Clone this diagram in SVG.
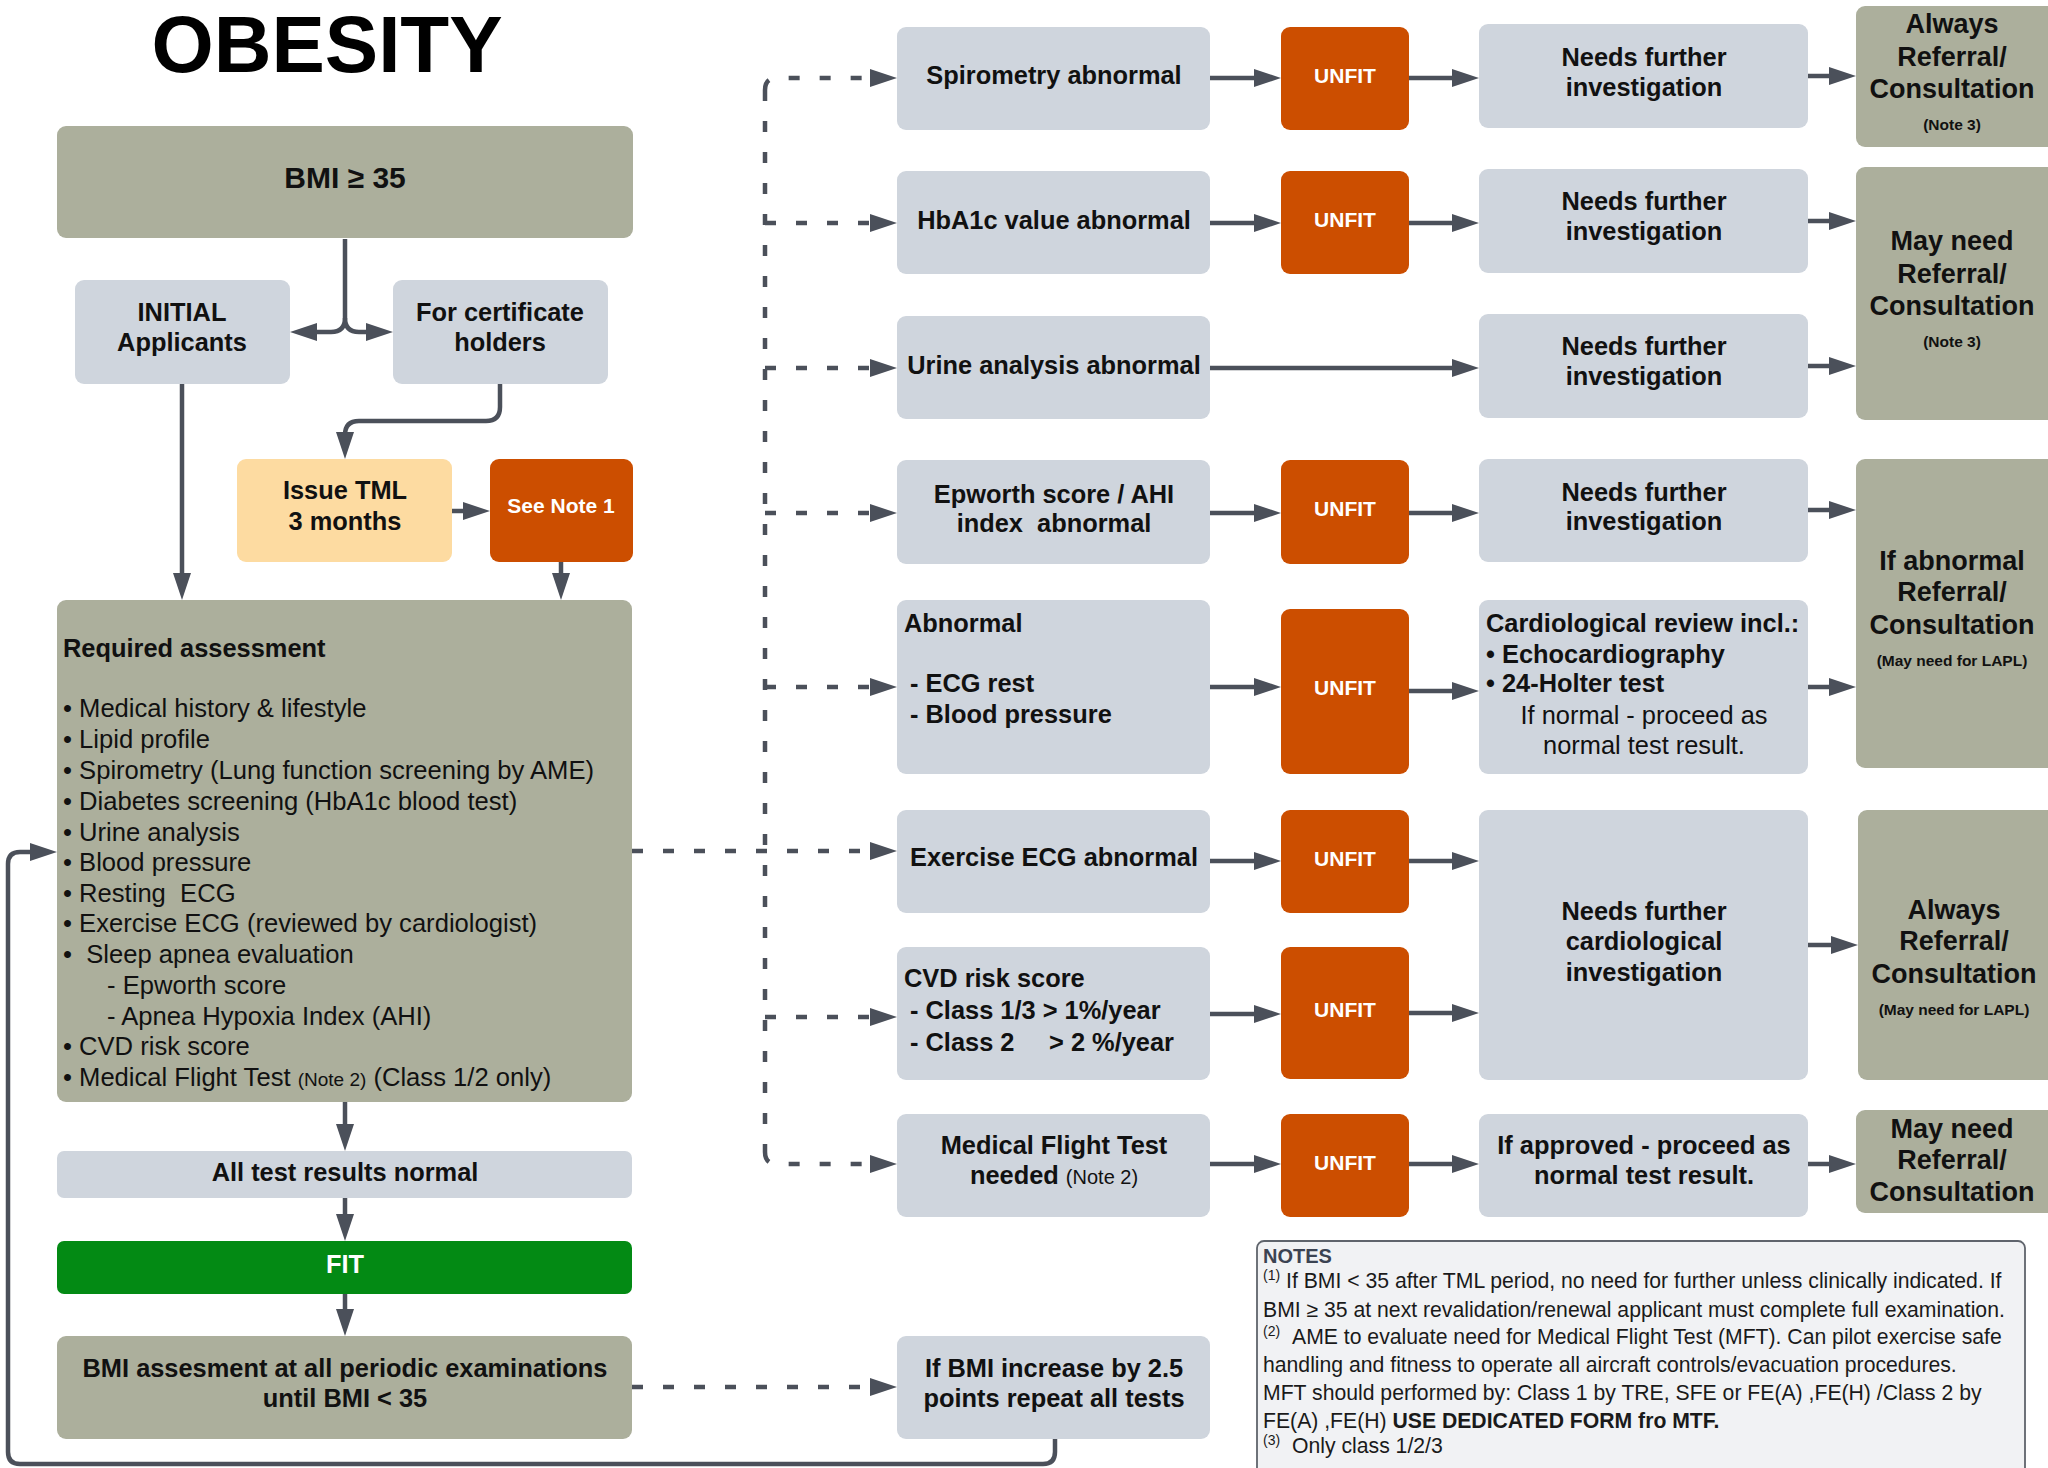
<svg xmlns="http://www.w3.org/2000/svg" width="2048" height="1468" viewBox="0 0 2048 1468">
<defs>
<style>
.o{fill:#acaf9c}
.n{fill:#cfd5dd}
.u{fill:#cc4e00}
.p{fill:#fddba1}
.g{fill:#038a14}
text{font-family:"Liberation Sans",Arial,sans-serif;fill:#111}
.b{font-weight:bold;font-size:25.4px;text-anchor:middle}
.bl{font-weight:bold;font-size:25.4px}
.r{font-size:25.6px}
.rc{font-size:25.4px;text-anchor:middle}
.w{font-weight:bold;font-size:21px;text-anchor:middle;fill:#fff}
.rf{font-weight:bold;font-size:27px;text-anchor:middle}
.sm{font-weight:bold;font-size:15.5px;text-anchor:middle}
.nt{font-size:21.2px;fill:#1a1a1a}
.sup{font-size:14px;fill:#1a1a1a}
.c{fill:none;stroke:#4b505a;stroke-width:4.5}
.d{fill:none;stroke:#4b505a;stroke-width:4.5;stroke-dasharray:11 20}
</style>
<marker id="ah" markerUnits="userSpaceOnUse" markerWidth="28" markerHeight="20" refX="17" refY="9" orient="auto">
<path d="M0,0 L27,9 L0,18 z" fill="#4b505a"/>
</marker>
</defs>
<rect width="2048" height="1468" fill="#fff"/>

<text x="327" y="72" style="font-weight:bold;font-size:80px;text-anchor:middle;fill:#000">OBESITY</text>

<g id="connectors">
<path class="c" d="M345,239 V318 Q345,332 331,332 H300" marker-end="url(#ah)"/>
<path class="c" d="M345,318 Q345,332 359,332 H383" marker-end="url(#ah)"/>
<path class="c" d="M500,384 V407 Q500,421 486,421 H359 Q345,421 345,435 V449" marker-end="url(#ah)"/>
<path class="c" d="M452,511 H480" marker-end="url(#ah)"/>
<path class="c" d="M182,384 V590" marker-end="url(#ah)"/>
<path class="c" d="M561,562 V590" marker-end="url(#ah)"/>
<path class="c" d="M345,1102 V1141" marker-end="url(#ah)"/>
<path class="c" d="M345,1198 V1231" marker-end="url(#ah)"/>
<path class="c" d="M345,1294 V1326" marker-end="url(#ah)"/>
<path class="c" d="M1055,1439 V1452 Q1055,1464 1043,1464 H20 Q8,1464 8,1452 V864 Q8,852 20,852 H47" marker-end="url(#ah)"/>
<!-- dashed -->
<path class="d" d="M632,851 H887" marker-end="url(#ah)"/>
<path class="d" d="M765,90 V1152"/>
<path class="d" d="M765,90 Q765,78 777,78 H887" marker-end="url(#ah)"/>
<path class="d" d="M765,223 H887" marker-end="url(#ah)"/>
<path class="d" d="M765,368 H887" marker-end="url(#ah)"/>
<path class="d" d="M765,513 H887" marker-end="url(#ah)"/>
<path class="d" d="M765,687 H887" marker-end="url(#ah)"/>
<path class="d" d="M765,1017 H887" marker-end="url(#ah)"/>
<path class="d" d="M765,1152 Q765,1164 777,1164 H887" marker-end="url(#ah)"/>
<path class="d" d="M632,1387 H887" marker-end="url(#ah)"/>
<!-- box -> UNFIT -->
<path class="c" d="M1210,78 H1271" marker-end="url(#ah)"/>
<path class="c" d="M1210,223 H1271" marker-end="url(#ah)"/>
<path class="c" d="M1210,513 H1271" marker-end="url(#ah)"/>
<path class="c" d="M1210,687 H1271" marker-end="url(#ah)"/>
<path class="c" d="M1210,861 H1271" marker-end="url(#ah)"/>
<path class="c" d="M1210,1014 H1271" marker-end="url(#ah)"/>
<path class="c" d="M1210,1164 H1271" marker-end="url(#ah)"/>
<!-- UNFIT -> next -->
<path class="c" d="M1409,78 H1469" marker-end="url(#ah)"/>
<path class="c" d="M1409,223 H1469" marker-end="url(#ah)"/>
<path class="c" d="M1210,368 H1469" marker-end="url(#ah)"/>
<path class="c" d="M1409,513 H1469" marker-end="url(#ah)"/>
<path class="c" d="M1409,691 H1469" marker-end="url(#ah)"/>
<path class="c" d="M1409,861 H1469" marker-end="url(#ah)"/>
<path class="c" d="M1409,1013 H1469" marker-end="url(#ah)"/>
<path class="c" d="M1409,1164 H1469" marker-end="url(#ah)"/>
<!-- next -> referral -->
<path class="c" d="M1808,76 H1846" marker-end="url(#ah)"/>
<path class="c" d="M1808,221 H1846" marker-end="url(#ah)"/>
<path class="c" d="M1808,366 H1846" marker-end="url(#ah)"/>
<path class="c" d="M1808,510 H1846" marker-end="url(#ah)"/>
<path class="c" d="M1808,687 H1846" marker-end="url(#ah)"/>
<path class="c" d="M1808,945 H1848" marker-end="url(#ah)"/>
<path class="c" d="M1808,1164 H1846" marker-end="url(#ah)"/>
</g>

<g id="bmi"><rect class="o" x="57" y="126" width="576" height="112" rx="9"/><text class="b" x="345" y="188" style="font-size:30px">BMI ≥ 35</text></g>
<g id="initial"><rect class="n" x="75" y="280" width="215" height="104" rx="9"/><text class="b" x="182" y="321">INITIAL</text><text class="b" x="182" y="351">Applicants</text></g>
<g id="cert"><rect class="n" x="393" y="280" width="215" height="104" rx="9"/><text class="b" x="500" y="321">For certificate</text><text class="b" x="500" y="351">holders</text></g>
<g id="tml"><rect class="p" x="237" y="459" width="215" height="103" rx="9"/><text class="b" x="345" y="499">Issue TML</text><text class="b" x="345" y="530">3 months</text></g>
<g id="note1"><rect class="u" x="490" y="459" width="143" height="103" rx="9"/><text class="w" x="561" y="513">See Note 1</text></g>

<g id="required"><rect class="o" x="57" y="600" width="575" height="502" rx="9"/>
<text class="bl" x="63" y="657">Required assessment</text>
<text class="r" x="63" y="717">• Medical history &amp; lifestyle</text>
<text class="r" x="63" y="748">• Lipid profile</text>
<text class="r" x="63" y="779">• Spirometry (Lung function screening by AME)</text>
<text class="r" x="63" y="810">• Diabetes screening (HbA1c blood test)</text>
<text class="r" x="63" y="841">• Urine analysis</text>
<text class="r" x="63" y="871">• Blood pressure</text>
<text class="r" x="63" y="902" xml:space="preserve">• Resting  ECG</text>
<text class="r" x="63" y="932">• Exercise ECG (reviewed by cardiologist)</text>
<text class="r" x="63" y="963" xml:space="preserve">•  Sleep apnea evaluation</text>
<text class="r" x="107" y="994">- Epworth score</text>
<text class="r" x="107" y="1025">- Apnea Hypoxia Index (AHI)</text>
<text class="r" x="63" y="1055">• CVD risk score</text>
<text class="r" x="63" y="1086">• Medical Flight Test <tspan style="font-size:19px">(Note 2)</tspan> (Class 1/2 only)</text>
</g>

<g id="allnormal"><rect class="n" x="57" y="1151" width="575" height="47" rx="7"/><text class="b" x="345" y="1181">All test results normal</text></g>
<g id="fit"><rect class="g" x="57" y="1241" width="575" height="53" rx="7"/><text class="b" x="345" y="1273" style="fill:#fff">FIT</text></g>
<g id="bmiassess"><rect class="o" x="57" y="1336" width="575" height="103" rx="9"/><text class="b" x="345" y="1377">BMI assesment at all periodic examinations</text><text class="b" x="345" y="1407">until BMI &lt; 35</text></g>
<g id="bmiinc"><rect class="n" x="897" y="1336" width="313" height="103" rx="9"/><text class="b" x="1054" y="1377">If BMI increase by 2.5</text><text class="b" x="1054" y="1407">points repeat all tests</text></g>

<g id="spiro"><rect class="n" x="897" y="27" width="313" height="103" rx="9"/><text class="b" x="1054" y="84">Spirometry abnormal</text></g>
<g id="hba1c"><rect class="n" x="897" y="171" width="313" height="103" rx="9"/><text class="b" x="1054" y="229">HbA1c value abnormal</text></g>
<g id="urine"><rect class="n" x="897" y="316" width="313" height="103" rx="9"/><text class="b" x="1054" y="374">Urine analysis abnormal</text></g>
<g id="epworth"><rect class="n" x="897" y="460" width="313" height="104" rx="9"/><text class="b" x="1054" y="503">Epworth score / AHI</text><text class="b" x="1054" y="532" xml:space="preserve">index  abnormal</text></g>
<g id="ecgabn"><rect class="n" x="897" y="600" width="313" height="174" rx="9"/><text class="bl" x="904" y="632">Abnormal</text><text class="bl" x="910" y="692">- ECG rest</text><text class="bl" x="910" y="723">- Blood pressure</text></g>
<g id="exercise"><rect class="n" x="897" y="810" width="313" height="103" rx="9"/><text class="b" x="1054" y="866">Exercise ECG abnormal</text></g>
<g id="cvd"><rect class="n" x="897" y="947" width="313" height="133" rx="9"/><text class="bl" x="904" y="987">CVD risk score</text><text class="bl" x="910" y="1019">- Class 1/3 &gt; 1%/year</text><text class="bl" x="910" y="1051">- Class 2</text><text class="bl" x="1049" y="1051">&gt; 2 %/year</text></g>
<g id="mft"><rect class="n" x="897" y="1114" width="313" height="103" rx="9"/><text class="b" x="1054" y="1154">Medical Flight Test</text><text class="b" x="1054" y="1184">needed <tspan style="font-weight:normal;font-size:20px">(Note 2)</tspan></text></g>

<g id="unfit1"><rect class="u" x="1281" y="27" width="128" height="103" rx="9"/><text class="w" x="1345" y="83">UNFIT</text></g>
<g id="unfit2"><rect class="u" x="1281" y="171" width="128" height="103" rx="9"/><text class="w" x="1345" y="227">UNFIT</text></g>
<g id="unfit3"><rect class="u" x="1281" y="460" width="128" height="104" rx="9"/><text class="w" x="1345" y="516">UNFIT</text></g>
<g id="unfit4"><rect class="u" x="1281" y="609" width="128" height="165" rx="9"/><text class="w" x="1345" y="695">UNFIT</text></g>
<g id="unfit5"><rect class="u" x="1281" y="810" width="128" height="103" rx="9"/><text class="w" x="1345" y="866">UNFIT</text></g>
<g id="unfit6"><rect class="u" x="1281" y="947" width="128" height="132" rx="9"/><text class="w" x="1345" y="1017">UNFIT</text></g>
<g id="unfit7"><rect class="u" x="1281" y="1114" width="128" height="103" rx="9"/><text class="w" x="1345" y="1170">UNFIT</text></g>

<g id="needs1"><rect class="n" x="1479" y="24" width="329" height="104" rx="9"/><text class="b" x="1644" y="66">Needs further</text><text class="b" x="1644" y="96">investigation</text></g>
<g id="needs2"><rect class="n" x="1479" y="169" width="329" height="104" rx="9"/><text class="b" x="1644" y="210">Needs further</text><text class="b" x="1644" y="240">investigation</text></g>
<g id="needs3"><rect class="n" x="1479" y="314" width="329" height="104" rx="9"/><text class="b" x="1644" y="355">Needs further</text><text class="b" x="1644" y="385">investigation</text></g>
<g id="needs4"><rect class="n" x="1479" y="459" width="329" height="103" rx="9"/><text class="b" x="1644" y="501">Needs further</text><text class="b" x="1644" y="530">investigation</text></g>
<g id="cardio"><rect class="n" x="1479" y="600" width="329" height="174" rx="9"/><text class="bl" x="1486" y="632">Cardiological review incl.:</text><text class="bl" x="1486" y="663">• Echocardiography</text><text class="bl" x="1486" y="692">• 24-Holter test</text><text class="rc" x="1644" y="724">If normal - proceed as</text><text class="rc" x="1644" y="754">normal test result.</text></g>
<g id="needscardio"><rect class="n" x="1479" y="810" width="329" height="270" rx="9"/><text class="b" x="1644" y="920">Needs further</text><text class="b" x="1644" y="950">cardiological</text><text class="b" x="1644" y="981">investigation</text></g>
<g id="approved"><rect class="n" x="1479" y="1114" width="329" height="103" rx="9"/><text class="b" x="1644" y="1154">If approved - proceed as</text><text class="b" x="1644" y="1184">normal test result.</text></g>

<g id="ref1"><rect class="o" x="1856" y="6" width="202" height="141" rx="9"/><text class="rf" x="1952" y="33">Always</text><text class="rf" x="1952" y="66">Referral/</text><text class="rf" x="1952" y="98">Consultation</text><text class="sm" x="1952" y="130">(Note 3)</text></g>
<g id="ref2"><rect class="o" x="1856" y="167" width="202" height="253" rx="9"/><text class="rf" x="1952" y="250">May need</text><text class="rf" x="1952" y="283">Referral/</text><text class="rf" x="1952" y="315">Consultation</text><text class="sm" x="1952" y="347">(Note 3)</text></g>
<g id="ref3"><rect class="o" x="1856" y="459" width="202" height="309" rx="9"/><text class="rf" x="1952" y="570">If abnormal</text><text class="rf" x="1952" y="601">Referral/</text><text class="rf" x="1952" y="634">Consultation</text><text class="sm" x="1952" y="666">(May need for LAPL)</text></g>
<g id="ref4"><rect class="o" x="1858" y="810" width="200" height="270" rx="9"/><text class="rf" x="1954" y="919">Always</text><text class="rf" x="1954" y="950">Referral/</text><text class="rf" x="1954" y="983">Consultation</text><text class="sm" x="1954" y="1015">(May need for LAPL)</text></g>
<g id="ref5"><rect class="o" x="1856" y="1110" width="202" height="103" rx="9"/><text class="rf" x="1952" y="1138">May need</text><text class="rf" x="1952" y="1169">Referral/</text><text class="rf" x="1952" y="1201">Consultation</text></g>

<g id="notes"><rect x="1257" y="1241" width="768" height="250" rx="7" fill="#f1f2f4" stroke="#5f646c" stroke-width="1.8"/>
<text x="1263" y="1263" style="font-weight:bold;font-size:20px;fill:#3b4352">NOTES</text>
<text class="sup" x="1263" y="1280">(1)</text><text class="nt" x="1286" y="1288">If BMI &lt; 35 after TML period, no need for further unless clinically indicated. If</text>
<text class="nt" x="1263" y="1317">BMI ≥ 35 at next revalidation/renewal applicant must complete full examination.</text>
<text class="sup" x="1263" y="1336">(2)</text><text class="nt" x="1292" y="1344">AME to evaluate need for Medical Flight Test (MFT). Can pilot exercise safe</text>
<text class="nt" x="1263" y="1372">handling and fitness to operate all aircraft controls/evacuation procedures.</text>
<text class="nt" x="1263" y="1400">MFT should performed by: Class 1 by TRE, SFE or FE(A) ,FE(H) /Class 2 by</text>
<text class="nt" x="1263" y="1428">FE(A) ,FE(H) <tspan style="font-weight:bold">USE DEDICATED FORM fro MTF.</tspan></text>
<text class="sup" x="1263" y="1445">(3)</text><text class="nt" x="1292" y="1453">Only class 1/2/3</text>
</g>
</svg>
